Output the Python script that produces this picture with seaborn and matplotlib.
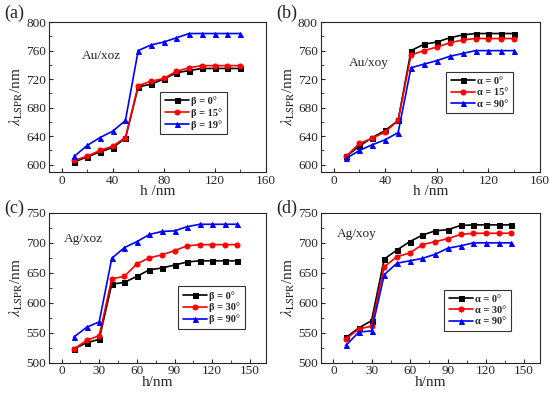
import numpy as np
import pandas as pd
import seaborn as sns
import matplotlib.pyplot as plt

# thickness values (nm)
h = [10, 20, 30, 40, 50, 60, 70, 80, 90, 100, 110, 120, 130, 140]

# (a) Au / xoz
au_xoz_b0 = [604, 611, 618, 624, 637, 709, 713, 720, 729, 732, 735, 735, 735, 735]
au_xoz_b15 = [606, 612, 620, 626, 638, 711, 717, 721, 731, 736, 739, 739, 739, 739]
au_xoz_b19 = [612, 627, 638, 647, 662, 760, 768, 772, 778, 784, 784, 784, 784, 784]

# (b) Au / xoy
au_xoy_a0 = [612, 626, 638, 648, 662, 760, 769, 772, 778, 782, 784, 784, 784, 784]
au_xoy_a15 = [612, 630, 637, 646, 662, 754, 760, 765, 771, 775, 777, 777, 777, 777]
au_xoy_a90 = [609, 620, 628, 635, 645, 736, 741, 746, 752, 756, 760, 760, 760, 760]

# (c) Ag / xoz
ag_xoz_b0 = [523, 533, 539, 631, 634, 644, 655, 658, 663, 668, 670, 670, 670, 670]
ag_xoz_b30 = [523, 537, 545, 640, 644, 665, 675, 680, 687, 695, 697, 697, 697, 697]
ag_xoz_b90 = [543, 559, 568, 674, 692, 702, 714, 719, 720, 727, 731, 731, 731, 731]

# (d) Ag / xoy
ag_xoy_a0 = [542, 558, 570, 673, 688, 702, 713, 720, 722, 729, 730, 730, 730, 730]
ag_xoy_a30 = [540, 556, 561, 660, 677, 683, 697, 702, 707, 714, 716, 716, 716, 716]
ag_xoy_a90 = [529, 551, 553, 647, 666, 670, 674, 681, 691, 695, 700, 700, 700, 700]

sns.set_style('ticks')
plt.rcParams['font.family'] = ['Liberation Serif', 'DejaVu Serif']
plt.rcParams['mathtext.fontset'] = 'stix'
plt.rcParams['xtick.direction'] = 'in'
plt.rcParams['ytick.direction'] = 'in'

colors = ['black', 'red', 'blue']
markers = ['s', 'o', '^']

fig = plt.figure(figsize=(5.5, 3.95), dpi=100)

panels = [
    # rect, series, labels, tag, tag pos (fig), note, note xy, xlim, ylim, yticks, xticks, xlabel, legend anchor
    ([0.089, 0.565, 0.394, 0.379], [au_xoz_b0, au_xoz_b15, au_xoz_b19],
     ['β = 0°', 'β = 15°', 'β = 19°'], '(a)', (0.008, 0.965), 'Au/xoz', (16, 752),
     (-10, 160), (590, 800), np.arange(600, 801, 40), np.arange(0, 161, 40), 'h /nm', (0.82, 0.25)),
    ([0.583, 0.565, 0.399, 0.379], [au_xoy_a0, au_xoy_a15, au_xoy_a90],
     ['α = 0°', 'α = 15°', 'α = 90°'], '(b)', (0.502, 0.965), 'Au/xoy', (12, 742),
     (-10, 160), (590, 800), np.arange(600, 801, 40), np.arange(0, 161, 40), 'h /nm', (0.877, 0.39)),
    ([0.089, 0.082, 0.394, 0.379], [ag_xoz_b0, ag_xoz_b30, ag_xoz_b90],
     ['β = 0°', 'β = 30°', 'β = 90°'], '(c)', (0.008, 0.472), 'Ag/xoz', (2, 707),
     (-10, 162.5), (500, 750), np.arange(500, 751, 50), np.arange(0, 151, 30), 'h/nm', (0.904, 0.225)),
    ([0.583, 0.082, 0.399, 0.379], [ag_xoy_a0, ag_xoy_a30, ag_xoy_a90],
     ['α = 0°', 'α = 30°', 'α = 90°'], '(d)', (0.502, 0.472), 'Ag/xoy', (3, 714),
     (-10, 162.5), (500, 750), np.arange(500, 751, 50), np.arange(0, 151, 30), 'h/nm', (0.868, 0.21)),
]

for (rect, series, labels, tag, tag_xy, note, note_xy, xlim, ylim,
     yticks, xticks, xlabel, anchor) in panels:
    ax = fig.add_axes(rect)
    for vals, lab, c, m in zip(series, labels, colors, markers):
        sns.lineplot(x=h, y=vals, color=c, marker=m, markersize=3.6, markeredgecolor=c,
                     linewidth=1.2, label=lab, ax=ax)
    ax.set_xlim(*xlim)
    ax.set_ylim(*ylim)
    ax.set_yticks(yticks)
    ax.set_xticks(xticks)
    ax.set_xticks(xticks[:-1] + (xticks[1] - xticks[0]) / 2, minor=True)
    ax.set_yticks(yticks[:-1] + (yticks[1] - yticks[0]) / 2, minor=True)
    ax.tick_params(labelsize=9.5, length=3, width=0.8, pad=2)
    ax.tick_params(which='minor', length=2, width=0.6)
    for s in ax.spines.values():
        s.set_linewidth(0.8)
    ax.set_xlabel(xlabel, fontsize=11, labelpad=-1)
    ax.set_ylabel(r'$\lambda_{\rm LSPR}$/nm', fontsize=11, labelpad=1)
    ax.text(note_xy[0], note_xy[1], note, fontsize=9.5, ha='left', va='center')
    fig.text(tag_xy[0], tag_xy[1], tag, fontsize=13, ha='left', va='center')
    leg = ax.legend(loc='lower right', bbox_to_anchor=anchor, frameon=True, fancybox=False,
                    edgecolor='black', handlelength=2.3, handletextpad=0.2,
                    borderpad=0.45, labelspacing=0.2, borderaxespad=0,
                    prop={'weight': 'bold', 'size': 7.5})
    leg.get_frame().set_linewidth(0.8)

fig.savefig('out.png', dpi=100)
